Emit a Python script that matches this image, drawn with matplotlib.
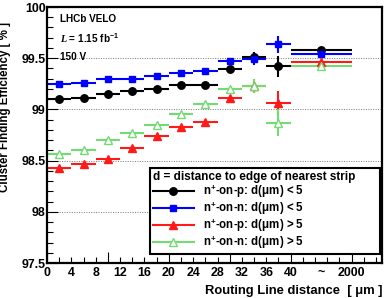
import matplotlib
matplotlib.use("Agg")
import matplotlib.pyplot as plt
import numpy as np
from matplotlib.ticker import MultipleLocator
from matplotlib.lines import Line2D

plt.rcParams.update({"font.family": "Liberation Sans", "font.weight": "bold",
    "mathtext.fontset": "custom", "mathtext.rm": "Liberation Sans:bold",
    "mathtext.it": "Liberation Serif:italic", "mathtext.bf": "Liberation Sans:bold",
    "axes.linewidth": 1.6})

# bin centres / half widths (last bin is the "~2000 um" one)
x_c = [2, 6, 10, 14, 18, 22, 26, 30, 34, 38, 45]
x_err = [2, 2, 2, 2, 2, 2, 2, 2, 2, 2, 5]
tick_pos = [0, 4, 8, 12, 16, 20, 24, 28, 32, 36, 40, 45, 50]
tick_lab = ["0", "4", "8", "12", "16", "20", "24", "28", "32", "36", "40", "~", "2000"]

p_small = [99.10, 99.11, 99.155, 99.18, 99.195, 99.235, 99.24, 99.39, 99.515, 99.42, 99.58]
p_small_err = [0.01, 0.01, 0.01, 0.01, 0.01, 0.01, 0.012, 0.015, 0.05, 0.10, 0.01]
n_small = [99.25, 99.26, 99.30, 99.30, 99.33, 99.36, 99.375, 99.47, 99.495, 99.635, 99.545]
n_small_err = [0.01, 0.01, 0.01, 0.01, 0.01, 0.01, 0.012, 0.015, 0.06, 0.08, 0.01]
p_large = [98.43, 98.465, 98.52, 98.62, 98.74, 98.83, 98.875, 99.115, 99.23, 99.06, 99.46]
p_large_err = [0.01, 0.01, 0.01, 0.01, 0.01, 0.01, 0.012, 0.015, 0.07, 0.12, 0.01]
n_large = [98.56, 98.60, 98.70, 98.77, 98.85, 98.96, 99.05, 99.20, 99.23, 98.87, 99.42]
n_large_err = [0.01, 0.01, 0.01, 0.01, 0.01, 0.01, 0.012, 0.015, 0.07, 0.13, 0.01]

labels = ["n$^{+}$-on-p: d(μm) < 5", "n$^{+}$-on-n: d(μm) < 5",
          "n$^{+}$-on-p: d(μm) > 5", "n$^{+}$-on-n: d(μm) > 5"]
C_GREEN = "#72db72"
styles = [dict(marker="o", color="black", ms=5.4),
          dict(marker="s", color="#0000ff", ms=4.5),
          dict(marker="^", color="#ff1a1a", ms=5.4),
          dict(marker="^", color=C_GREEN, ms=6.0, mfc="white", mec=C_GREEN, mew=1.0)]

fig = plt.figure(figsize=(3.92, 2.98), dpi=100)
ax = fig.add_axes([0.1199, 0.1174, 0.8546, 0.8591])

for yv in [98.0, 98.5, 99.0, 99.5]:
    ax.axhline(yv, color="#777777", ls=(0, (1, 1.5)), lw=0.7, zorder=0)

series = [(p_small, p_small_err), (n_small, n_small_err), (p_large, p_large_err), (n_large, n_large_err)]
for (yv, ye), st in zip(series, styles):
    ax.errorbar(x_c, yv, xerr=x_err, yerr=ye, ls="none", elinewidth=1.5, capsize=0, **st)

ax.set_xlim(0, 55); ax.set_ylim(97.5, 100)
ax.xaxis.set_major_locator(MultipleLocator(10)); ax.xaxis.set_minor_locator(MultipleLocator(2))
ax.yaxis.set_minor_locator(MultipleLocator(0.1))
ax.tick_params(which="both", direction="in", top=False, right=False)
ax.tick_params(which="major", length=8, width=0.8)
ax.tick_params(which="minor", length=4, width=0.8)
ax.set_xticklabels([])
ax.set_yticks([97.5, 98, 98.5, 99, 99.5, 100])
ax.set_yticklabels(["97.5", "98", "98.5", "99", "99.5", "100"], fontsize=8.9, fontweight="bold")
ax.tick_params(axis="y", pad=1)
for p, t in zip(tick_pos, tick_lab):
    ax.text(p, -0.015, t, transform=ax.get_xaxis_transform(), ha="center", va="top",
            fontsize=8.9, fontweight="bold")

ax.set_ylabel("Cluster Finding Efficiency [ % ]", fontsize=8.3, fontweight="bold")
ax.yaxis.set_label_coords(-0.108, 0.61)
ax.text(1.0, -0.085, "Routing Line distance  [ μm ]", transform=ax.transAxes, ha="right", va="top",
        fontsize=9.4, fontweight="bold")

for yy, s in [(0.953, "LHCb VELO"), (0.879, "$L$ = 1.15 fb$^{-1}$"), (0.805, "150 V")]:
    ax.text(0.04, yy, s, transform=ax.transAxes, fontsize=7.2, fontweight="bold", va="center")

handles = [Line2D([], [], lw=1.5, **st) for st in styles]
leg = ax.legend(handles, labels, loc="lower left", bbox_to_anchor=(0.307, 0.035, 0.687, 0.32),
                mode="expand", fontsize=8.3,
                title="d = distance to edge of nearest strip", title_fontproperties={"weight": "bold", "size": 8.5},
                alignment="left", frameon=True, fancybox=False, edgecolor="black", framealpha=1,
                handlelength=3.5, handletextpad=0.8, labelspacing=0.0, borderpad=0.3, borderaxespad=0)
leg.get_frame().set_linewidth(1.5)
for t in leg.get_texts():
    t.set_fontweight("bold")

fig.savefig("out.png", dpi=100, facecolor="white")
